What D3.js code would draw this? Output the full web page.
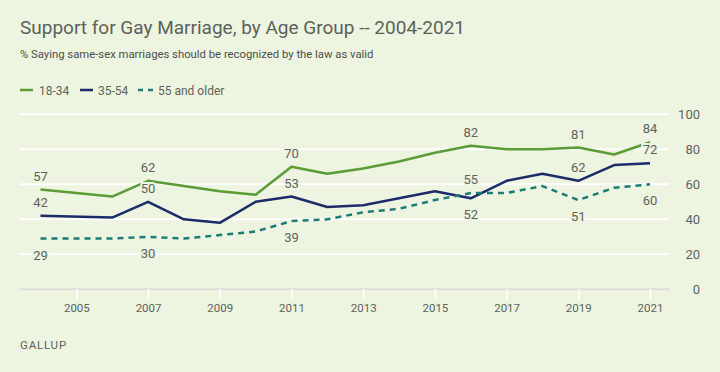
<!DOCTYPE html>
<html><head><meta charset="utf-8">
<script src="https://cdn.jsdelivr.net/npm/d3@7"></script>
<style>
html,body{margin:0;padding:0;background:#edf4e0;}
svg{display:block;font-family:Roboto,"Open Sans",sans-serif;}
</style></head>
<body><svg id="c" width="720" height="372"></svg>
<script>
const years = [2004,2006,2007,2008,2009,2010,2011,2012,2013,2014,2015,2016,2017,2018,2019,2020,2021];
const age18_34 = [57,53,62,59,56,54,70,66,69,73,78,82,80,80,81,77,84];
const age35_54 = [42,41,50,40,38,50,53,47,48,52,56,52,62,66,62,71,72];
const age55plus = [29,29,30,29,31,33,39,40,44,46,51,55,55,59,51,58,60];
const seriesNames = ["18-34","35-54","55 and older"];
const xTickYears = [2005,2007,2009,2011,2013,2015,2017,2019,2021];
const yTicks = [0,20,40,60,80,100];
// which years get labels, and side (1 above, -1 below)
const labelYears = [2004,2007,2011,2016,2019,2021];
const labelSides = [[1,1,1,1,1,1],[1,1,1,-1,1,1],[-1,-1,-1,1,-1,-1]];

const bg = "#edf4e0";
const colors = ["#5b9c37","#1b2c68","#1d7b78"];
const textCol = "#5d635d";
const svg = d3.select("#c");
svg.append("rect").attr("width",720).attr("height",372).attr("fill",bg);

const x = d3.scaleLinear().domain([2004,2021]).range([40.5,650]);
const y = d3.scaleLinear().domain([0,100]).range([289.3,114.3]);

// gridlines
svg.append("g").selectAll("line").data(yTicks.filter(d=>d>0)).join("line")
  .attr("x1",20).attr("x2",669).attr("y1",d=>y(d)).attr("y2",d=>y(d))
  .attr("stroke","#ffffff").attr("stroke-width",2);
// baseline
svg.append("line").attr("x1",20).attr("x2",669).attr("y1",y(0)).attr("y2",y(0))
  .attr("stroke","#dcdfd8").attr("stroke-width",2);

// y axis labels
const yAxis = d3.axisRight(y).tickValues(yTicks).tickSize(0).tickPadding(0);
const ya = svg.append("g").attr("transform","translate(700,0)").call(yAxis);
ya.select(".domain").remove();
ya.selectAll("text").attr("text-anchor","end").attr("fill",textCol)
  .style("font-size","13px").style("font-family","Roboto,'Open Sans',sans-serif");

// x axis
const xAxis = d3.axisBottom(x).tickValues(xTickYears).tickFormat(d3.format("d")).tickSize(10).tickPadding(5);
const xa = svg.append("g").attr("transform",`translate(0,${y(0)})`).call(xAxis);
xa.select(".domain").remove();
xa.selectAll(".tick line").attr("stroke","#ffffff").attr("stroke-width",2);
xa.selectAll("text").attr("fill",textCol).style("font-size","11.5px")
  .style("font-family","Roboto,'Open Sans',sans-serif");

// lines
const data = [age18_34, age35_54, age55plus];
const line = d3.line().x((d,i)=>x(years[i])).y(d=>y(d));
data.forEach((s,k)=>{
  svg.append("path").datum(s).attr("d",line).attr("fill","none")
    .attr("stroke",colors[k]).attr("stroke-width",2.5)
    .attr("stroke-linejoin","round")
    .attr("stroke-dasharray", k===2 ? "6,5" : null);
});

// labels
data.forEach((s,k)=>{
  labelYears.forEach((yr,j)=>{
    const i = years.indexOf(yr);
    const side = labelSides[k][j];
    svg.append("text").attr("x",x(yr)).attr("y", y(s[i]) + (side>0 ? -9 : 21))
      .attr("text-anchor","middle").attr("fill",textCol)
      .attr("stroke",bg).attr("stroke-width",4).attr("paint-order","stroke")
      .style("font-size","13px").text(s[i]);
  });
});

// title
svg.append("text").attr("x",20).attr("y",34).attr("fill","#5b625b")
  .style("font-size","19px").text("Support for Gay Marriage, by Age Group -- 2004-2021");
svg.append("text").attr("x",20).attr("y",58).attr("fill","#4a504a")
  .style("font-size","11.3px").text("% Saying same-sex marriages should be recognized by the law as valid");

// legend
const legX = [20,80,138];
const legTextX = [39,98,158];
seriesNames.forEach((n,k)=>{
  svg.append("line").attr("x1",legX[k]).attr("x2",legX[k]+ (k===2?15:13))
    .attr("y1",90).attr("y2",90).attr("stroke",colors[k]).attr("stroke-width",2.5)
    .attr("stroke-dasharray",k===2?"5,5":null);
  svg.append("text").attr("x",legTextX[k]).attr("y",94.5).attr("fill",textCol)
    .style("font-size","12px").text(n);
});

svg.append("text").attr("x",20).attr("y",349).attr("fill","#5d635d")
  .style("font-size","11.5px").style("letter-spacing","0.8px").text("GALLUP");
</script></body></html>
